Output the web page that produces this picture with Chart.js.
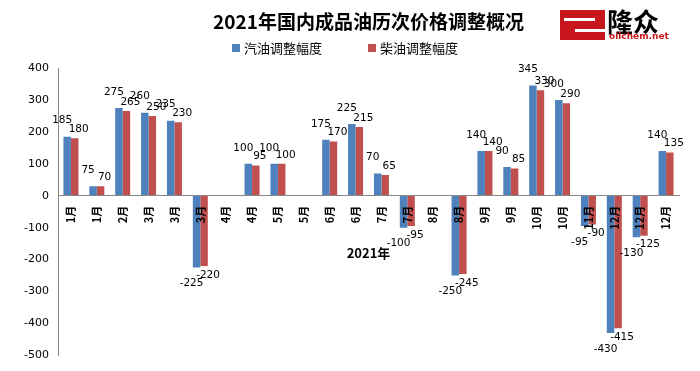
<!DOCTYPE html>
<html>
<head>
<meta charset="utf-8">
<script src="https://cdn.jsdelivr.net/npm/chart.js@4/dist/chart.umd.min.js"></script>
<style>
  html, body { margin: 0; padding: 0; background: #fff; }
</style>
</head>
<body>
<canvas id="oilChart" width="700" height="371"></canvas>
<script>
const months = ['1月','1月','2月','3月','3月','3月','4月','4月','5月','5月','6月','6月',
                '7月','7月','8月','8月','9月','9月','10月','10月','11月','12月','12月','12月'];
// bar heights as drawn
const gasoline = [185, 30, 275, 260, 235, -225, null, 100, 100, null, 175, 225,
                  70, -100, null, -250, 140, 90, 345, 300, -95, -430, -130, 140];
const diesel   = [180, 30, 265, 250, 230, -220, null, 95, 100, null, 170, 215,
                  65, -95, null, -245, 140, 85, 330, 290, -90, -415, -125, 135];
// numbers printed next to the bars
const gasolineText = [185, 75, 275, 260, 235, -225, null, 100, 100, null, 175, 225,
                      70, -100, null, -250, 140, 90, 345, 300, -95, -430, -130, 140];
const dieselText   = [180, 70, 265, 250, 230, -220, null, 95, 100, null, 170, 215,
                      65, -95, null, -245, 140, 85, 330, 290, -90, -415, -125, 135];
const chartTitle = '2021年国内成品油历次价格调整概况';
const seriesNames = ['汽油调整幅度', '柴油调整幅度'];
const colors = ['#4F81BD', '#C0504D'];

const cjk = '"Noto Sans CJK SC", "DejaVu Sans", sans-serif';
const num = '"DejaVu Sans", sans-serif';

const barLabels = {
  id: 'barLabels',
  afterDatasetsDraw(chart) {
    const ctx = chart.ctx;
    const texts = [gasolineText, dieselText];
    const shift = [{ dx: -5, dy: 16 }, { dx: 4, dy: 9 }];
    ctx.save();
    ctx.font = '10.5px ' + num;
    ctx.fillStyle = '#000';
    ctx.textAlign = 'center';
    ctx.textBaseline = 'middle';
    chart.data.datasets.forEach((ds, d) => {
      chart.getDatasetMeta(d).data.forEach((bar, i) => {
        const t = texts[d][i];
        if (t == null) return;
        const dir = t >= 0 ? -1 : 1;
        ctx.fillText(String(t), bar.x + shift[d].dx, bar.y + dir * shift[d].dy);
      });
    });
    ctx.restore();
  }
};

const header = {
  id: 'header',
  afterDraw(chart) {
    const ctx = chart.ctx;
    const area = chart.chartArea;
    ctx.save();
    // title
    ctx.fillStyle = '#000';
    ctx.font = 'bold 19px ' + cjk;
    ctx.textAlign = 'center';
    ctx.textBaseline = 'middle';
    ctx.fillText(chartTitle, (area.left + area.right) / 2, 22);

    // legend
    ctx.font = '13px ' + cjk;
    ctx.textAlign = 'left';
    let x = 232;
    chart.data.datasets.forEach((ds) => {
      ctx.fillStyle = ds.backgroundColor;
      ctx.fillRect(x, 44, 8, 8);
      ctx.fillStyle = '#000';
      ctx.fillText(ds.label, x + 12, 48);
      x += 136;
    });

    // logo
    const lx = 560, ly = 10;
    ctx.fillStyle = '#C8161D';
    ctx.fillRect(lx, ly, 45, 30);
    ctx.fillStyle = '#fff';
    ctx.fillRect(lx + 4, ly + 8, 31, 3);
    ctx.fillRect(lx + 15, ly + 19, 30, 3);
    ctx.fillStyle = '#000';
    ctx.font = 'bold 26px ' + cjk;
    ctx.textBaseline = 'alphabetic';
    ctx.fillText('隆众', lx + 47, ly + 22);
    ctx.fillStyle = '#C8161D';
    ctx.font = 'bold 9px ' + num;
    ctx.fillText('oilchem.net', lx + 49, ly + 29);
    ctx.restore();
  }
};

new Chart(document.getElementById('oilChart'), {
  type: 'bar',
  data: {
    labels: months,
    datasets: [
      { label: seriesNames[0], data: gasoline, backgroundColor: colors[0] },
      { label: seriesNames[1], data: diesel, backgroundColor: colors[1] }
    ]
  },
  options: {
    responsive: false,
    animation: false,
    layout: { padding: { top: 68, right: 21, bottom: 12, left: 0 } },
    datasets: { bar: { categoryPercentage: 0.58, barPercentage: 1 } },
    plugins: {
      legend: { display: false },
      title: { display: false },
      tooltip: { enabled: false }
    },
    scales: {
      x: {
        position: { y: 0 },
        grid: { display: false, drawTicks: false },
        border: { display: true, color: '#868686', z: 1 },
        ticks: {
          z: 1,
          autoSkip: false, minRotation: 90, maxRotation: 90, padding: 10,
          color: '#000', font: { family: cjk, size: 11, weight: 'bold' }
        },
        title: {
          display: true, text: '2021年', color: '#000',
          font: { family: cjk, size: 13, weight: 'bold' },
          padding: { top: 6, bottom: 0 }
        }
      },
      y: {
        min: -500, max: 400,
        grid: { display: false, drawTicks: false },
        border: { display: true, color: '#868686' },
        ticks: { stepSize: 100, padding: 9, color: '#000', font: { family: num, size: 11 } },
        afterFit(scale) { scale.width = 58; }
      }
    }
  },
  plugins: [barLabels, header]
});
</script>
</body>
</html>
